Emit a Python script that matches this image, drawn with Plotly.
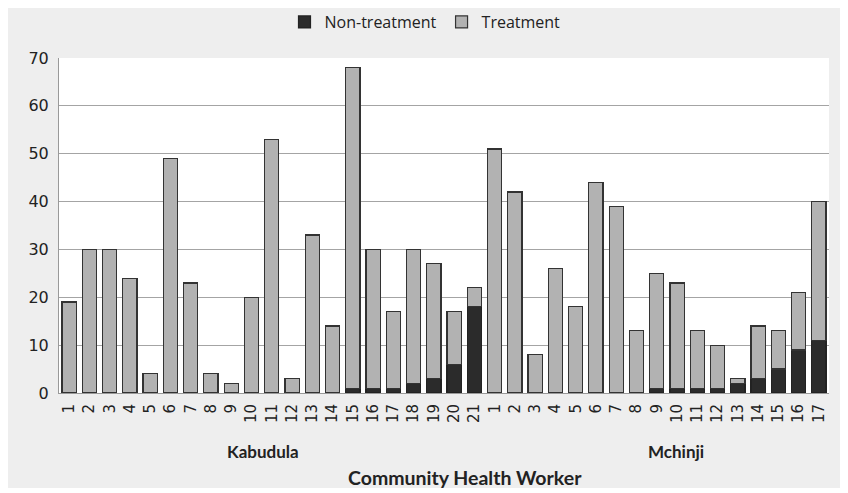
import plotly.graph_objects as go

kabudula_labels = [str(i) for i in range(1, 22)]
mchinji_labels = [str(i) for i in range(1, 18)]

kabudula_total = [19, 30, 30, 24, 4, 49, 23, 4, 2, 20, 53, 3, 33, 14, 68, 30, 17, 30, 27, 17, 22]
kabudula_non = [0, 0, 0, 0, 0, 0, 0, 0, 0, 0, 0, 0, 0, 0, 1, 1, 1, 2, 3, 6, 18]
mchinji_total = [51, 42, 8, 26, 18, 44, 39, 13, 25, 23, 13, 10, 3, 14, 13, 21, 40]
mchinji_non = [0, 0, 0, 0, 0, 0, 0, 0, 1, 1, 1, 1, 2, 3, 5, 9, 11]

tick_labels = kabudula_labels + mchinji_labels
non_treatment = kabudula_non + mchinji_non
treatment = [t - n for t, n in zip(kabudula_total + mchinji_total, non_treatment)]
pos = list(range(len(tick_labels)))

fig = go.Figure()
fig.add_bar(x=pos, y=non_treatment, name="Non-treatment",
            marker=dict(color="#2b2b2b", line=dict(color="#222222", width=1.2)))
fig.add_bar(x=pos, y=treatment, name="Treatment",
            marker=dict(color="#b2b2b2", line=dict(color="#333333", width=1.2)))

fig.update_layout(
    width=834, height=480,
    barmode="stack", bargap=0.3,
    paper_bgcolor="#eeeeee", plot_bgcolor="#ffffff",
    margin=dict(l=51, r=13, t=50, b=95, autoexpand=False),
    font=dict(family="DejaVu Sans", color="#222222"),
    legend=dict(orientation="h", x=0.5, xanchor="center", xref="container",
                y=1 - 14 / 480, yanchor="middle", yref="container",
                font=dict(family="Open Sans", size=16), bgcolor="rgba(0,0,0,0)",
                traceorder="normal"),
    xaxis=dict(tickmode="array", tickvals=pos, ticktext=tick_labels, tickangle=-90,
               range=[-0.5, len(pos) - 0.5], showgrid=False, ticks="outside",
               ticklen=4, tickcolor="rgba(0,0,0,0)", automargin=False,
               tickfont=dict(size=15, family="DejaVu Sans"),
               showline=True, linecolor="#999999", linewidth=1),
    yaxis=dict(range=[0, 70], dtick=10, showgrid=True, gridcolor="#a4a4a4", gridwidth=1,
               tickfont=dict(size=16, family="DejaVu Sans"), zeroline=False,
               showline=True, linecolor="#999999", linewidth=1, automargin=False,
               ticks="outside", ticklen=6, tickcolor="rgba(0,0,0,0)"),
    showlegend=True,
)

fig.add_annotation(x=9.57, y=-0.176, xref="x", yref="paper", yanchor="middle",
                   text="<b>Kabudula</b>",
                   showarrow=False, font=dict(family="Lato", size=17))
fig.add_annotation(x=29.95, y=-0.176, xref="x", yref="paper", yanchor="middle",
                   text="<b>Mchinji</b>",
                   showarrow=False, font=dict(family="Lato", size=17))
fig.add_annotation(x=0.527, y=-0.251, xref="paper", yref="paper", yanchor="middle",
                   text="<b>Community Health Worker</b>",
                   showarrow=False, font=dict(family="Lato", size=19.5))

fig.write_html("out.html")
